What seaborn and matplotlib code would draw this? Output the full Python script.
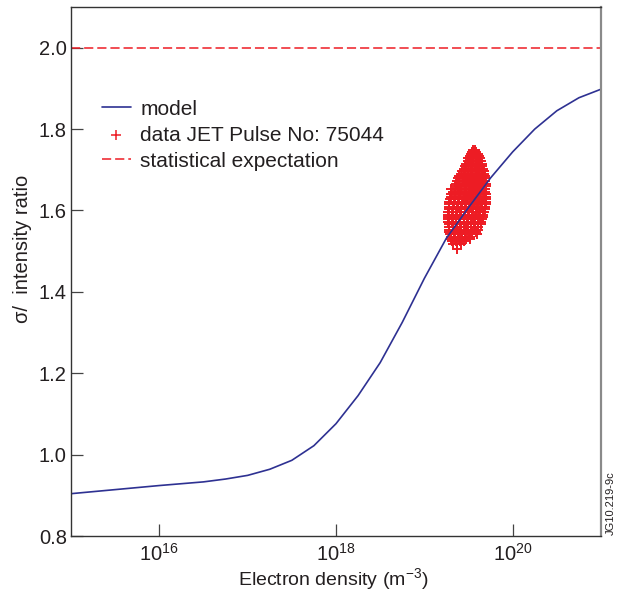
import matplotlib
matplotlib.use("Agg")
import matplotlib.pyplot as plt
import seaborn as sns
import pandas as pd

# ---------------- data ----------------
model_log_density = [15.0, 15.5, 16.0, 16.5, 16.75, 17.0, 17.25, 17.5, 17.75,
                     18.0, 18.25, 18.5, 18.75, 19.0, 19.25, 19.5, 19.75,
                     20.0, 20.25, 20.5, 20.75, 21.0]
model_ratio = [0.904, 0.914, 0.924, 0.933, 0.940, 0.949, 0.964, 0.986, 1.022,
               1.076, 1.145, 1.226, 1.325, 1.433, 1.532, 1.607, 1.680,
               1.744, 1.800, 1.845, 1.877, 1.898]
model_density = [10 ** v for v in model_log_density]

# JET Pulse No: 75044 measured points (density m^-3, ratio), read row by row
data_rows = [
    (1.748, [3.55e19, 3.72e19]),
    (1.743, [3.45e19, 3.65e19, 3.85e19]),
    (1.738, [3.40e19, 3.75e19, 4.05e19]),
    (1.733, [3.30e19, 3.55e19, 3.90e19, 4.15e19]),
    (1.728, [3.10e19, 3.25e19, 3.60e19, 3.98e19, 4.30e19]),
    (1.722, [3.15e19, 3.45e19, 3.80e19, 4.15e19, 4.40e19]),
    (1.715, [3.00e19, 3.35e19, 3.70e19, 4.05e19, 4.45e19]),
    (1.709, [2.90e19, 3.20e19, 3.55e19, 3.90e19, 4.30e19, 4.55e19]),
    (1.703, [2.80e19, 3.10e19, 3.45e19, 3.80e19, 4.20e19, 4.60e19]),
    (1.697, [2.70e19, 3.00e19, 3.35e19, 3.70e19, 4.05e19, 4.45e19, 4.70e19]),
    (1.690, [2.60e19, 2.90e19, 3.25e19, 3.60e19, 3.95e19, 4.35e19, 4.75e19]),
    (1.684, [2.50e19, 2.80e19, 3.15e19, 3.50e19, 3.85e19, 4.20e19, 4.60e19, 4.85e19]),
    (1.680, [2.39e19, 2.75e19, 3.05e19, 3.40e19, 3.75e19, 4.10e19, 4.50e19, 4.85e19]),
    (1.672, [2.35e19, 2.65e19, 2.95e19, 3.30e19, 3.65e19, 4.00e19, 4.40e19, 4.80e19]),
    (1.665, [2.30e19, 2.55e19, 2.85e19, 3.20e19, 3.55e19, 3.90e19, 4.30e19, 4.70e19, 4.95e19]),
    (1.659, [2.20e19, 2.48e19, 2.78e19, 3.10e19, 3.45e19, 3.80e19, 4.20e19, 4.60e19, 4.95e19]),
    (1.652, [2.00e19, 2.40e19, 2.70e19, 3.00e19, 3.35e19, 3.70e19, 4.05e19, 4.45e19, 4.90e19]),
    (1.646, [2.10e19, 2.32e19, 2.62e19, 2.95e19, 3.28e19, 3.62e19, 4.00e19, 4.40e19, 4.85e19]),
    (1.640, [2.02e19, 2.25e19, 2.55e19, 2.90e19, 3.20e19, 3.55e19, 3.90e19, 4.30e19, 4.75e19, 5.00e19]),
    (1.634, [1.98e19, 2.22e19, 2.50e19, 2.82e19, 3.12e19, 3.48e19, 3.85e19, 4.22e19, 4.68e19, 5.02e19]),
    (1.628, [1.95e19, 2.20e19, 2.45e19, 2.75e19, 3.05e19, 3.40e19, 3.80e19, 4.15e19, 4.60e19, 5.05e19]),
    (1.622, [1.92e19, 2.18e19, 2.42e19, 2.70e19, 3.00e19, 3.35e19, 3.72e19, 4.08e19, 4.52e19, 5.00e19]),
    (1.615, [1.90e19, 2.15e19, 2.40e19, 2.65e19, 2.95e19, 3.30e19, 3.65e19, 4.00e19, 4.45e19, 4.95e19]),
    (1.609, [1.89e19, 2.12e19, 2.38e19, 2.62e19, 2.92e19, 3.25e19, 3.60e19, 3.95e19, 4.38e19, 4.88e19]),
    (1.603, [1.88e19, 2.10e19, 2.35e19, 2.60e19, 2.90e19, 3.20e19, 3.55e19, 3.90e19, 4.30e19, 4.80e19]),
    (1.597, [1.86e19, 2.08e19, 2.32e19, 2.58e19, 2.88e19, 3.18e19, 3.50e19, 3.85e19, 4.25e19, 4.72e19]),
    (1.590, [1.85e19, 2.05e19, 2.30e19, 2.55e19, 2.85e19, 3.15e19, 3.45e19, 3.80e19, 4.20e19, 4.65e19]),
    (1.584, [1.85e19, 2.06e19, 2.29e19, 2.52e19, 2.82e19, 3.12e19, 3.42e19, 3.75e19, 4.15e19, 4.58e19]),
    (1.578, [1.85e19, 2.05e19, 2.28e19, 2.50e19, 2.80e19, 3.10e19, 3.40e19, 3.70e19, 4.10e19, 4.50e19]),
    (1.572, [1.86e19, 2.08e19, 2.29e19, 2.52e19, 2.80e19, 3.08e19, 3.38e19, 3.68e19, 4.05e19, 4.42e19]),
    (1.566, [1.88e19, 2.10e19, 2.30e19, 2.55e19, 2.80e19, 3.05e19, 3.35e19, 3.65e19, 4.00e19, 4.35e19]),
    (1.560, [1.89e19, 2.11e19, 2.32e19, 2.58e19, 2.82e19, 3.08e19, 3.38e19, 3.70e19, 4.05e19]),
    (1.553, [1.90e19, 2.12e19, 2.35e19, 2.60e19, 2.85e19, 3.10e19, 3.40e19, 3.75e19, 4.10e19]),
    (1.547, [1.92e19, 2.14e19, 2.38e19, 2.62e19, 2.88e19, 3.15e19, 3.45e19, 3.80e19]),
    (1.541, [1.95e19, 2.15e19, 2.40e19, 2.65e19, 2.90e19, 3.20e19, 3.50e19, 3.92e19]),
    (1.535, [1.98e19, 2.18e19, 2.42e19, 2.68e19, 2.92e19, 3.25e19]),
    (1.529, [2.00e19, 2.20e19, 2.45e19, 2.70e19, 2.95e19, 3.30e19]),
    (1.524, [2.05e19, 2.28e19, 2.52e19, 2.78e19]),
    (1.518, [2.10e19, 2.35e19, 2.60e19]),
    (1.505, [2.37e19]),
]
data_density = [d for _, ds in data_rows for d in ds]
data_ratio = [r for r, ds in data_rows for _ in ds]

expectation_ratio = 2.0

x_ticks = [1e16, 1e18, 1e20]
x_tick_labels = [r"$10^{16}$", r"$10^{18}$", r"$10^{20}$"]
y_ticks = [0.8, 1.0, 1.2, 1.4, 1.6, 1.8, 2.0]
y_tick_labels = ["0.8", "1.0", "1.2", "1.4", "1.6", "1.8", "2.0"]

# ---------------- style ----------------
sns.set_style("white")
plt.rcParams["font.family"] = ["Liberation Sans", "DejaVu Sans"]
plt.rcParams["mathtext.fontset"] = "custom"
plt.rcParams["mathtext.rm"] = "Liberation Sans"
plt.rcParams["mathtext.it"] = "Liberation Sans:italic"
plt.rcParams["mathtext.bf"] = "Liberation Sans:bold"

TXT = "#231f20"
RED = "#ed1c24"
BLUE = "#2e3192"

W, H = 629, 591
fig = plt.figure(figsize=(W / 100, H / 100), dpi=100)
ax = fig.add_axes([71 / W, (H - 536) / H, 530 / W, 529 / H])
ax.set_xscale("log")

df_model = pd.DataFrame({"density": model_density, "ratio": model_ratio})
df_data = pd.DataFrame({"density": data_density, "ratio": data_ratio})

sns.lineplot(data=df_model, x="density", y="ratio", color=BLUE, linewidth=1.2,
             ax=ax, label="model", sort=True)
sns.scatterplot(data=df_data, x="density", y="ratio", marker="+", s=55,
                color=RED, linewidth=1.4, ax=ax, label="data JET Pulse No: 75044")
ax.axhline(expectation_ratio, color=RED, linewidth=1.1, dashes=(6.0, 2.6),
           label="statistical expectation")

ax.set_xlim(1e15, 1e21)
ax.set_ylim(0.8, 2.1)
ax.set_xticks(x_ticks)
ax.set_xticklabels(x_tick_labels)
ax.minorticks_off()
ax.set_yticks(y_ticks)
ax.set_yticklabels(y_tick_labels)
ax.tick_params(axis="both", which="major", direction="in", length=8.5, width=0.9,
               color="#444444", labelsize=14.5, labelcolor=TXT, pad=3,
               bottom=True, left=True, top=False, right=False)
ax.tick_params(axis="x", pad=5)

for side in ["left", "bottom", "top"]:
    ax.spines[side].set_color("#333333")
    ax.spines[side].set_linewidth(1.0)
ax.spines["right"].set_color("#8a8a8a")
ax.spines["right"].set_linewidth(1.6)

ax.set_xlabel(r"Electron density (m$^{-3}$)", fontsize=14, color=TXT)
ax.set_ylabel("σ/  intensity ratio", fontsize=14.5, color=TXT)
ax.xaxis.set_label_coords(0.495, -0.056)
ax.yaxis.set_label_coords(-0.074, 0.543)

handles, labels = ax.get_legend_handles_labels()
order = ["model", "data JET Pulse No: 75044", "statistical expectation"]
hl = {l: h for h, l in zip(handles, labels)}
leg = ax.legend([hl[o] for o in order], order, loc="upper left",
                bbox_to_anchor=(0.0577, 0.825), frameon=False, fontsize=15,
                handlelength=1.41, handletextpad=0.45, labelspacing=0.34,
                borderaxespad=0, borderpad=0)
for t in leg.get_texts():
    t.set_color(TXT)
scatter_handle = leg.legend_handles[1]
scatter_handle.set_sizes([60])
scatter_handle.set_linewidth(1.1)

fig.text(611 / W, (H - 535) / H, "JG10.219-9c", rotation=90, fontsize=8,
         color=TXT, ha="center", va="bottom")

fig.savefig("out.png", dpi=100)
